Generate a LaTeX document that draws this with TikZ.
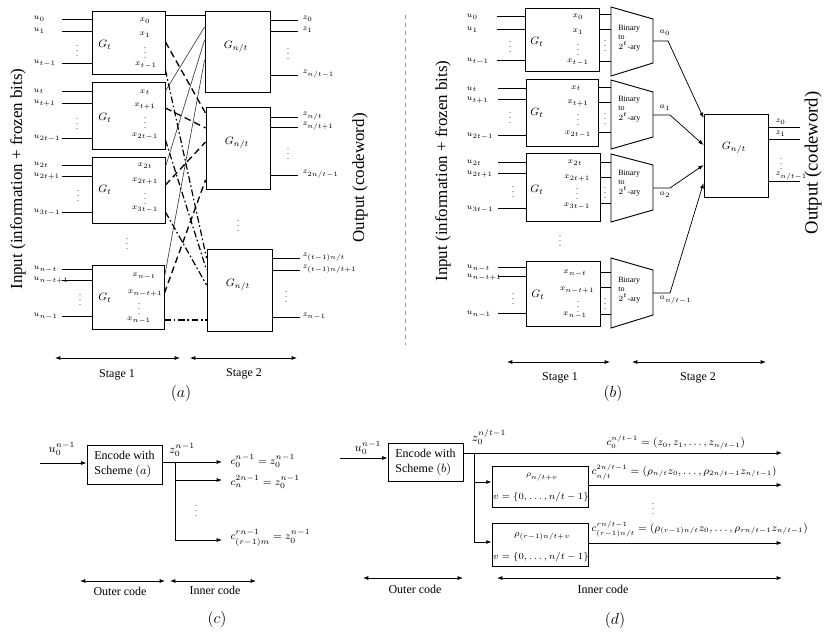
\documentclass[tikz,border=0pt]{standalone}
\usepackage{fontspec}
\setmainfont{Liberation Serif}
\usetikzlibrary{arrows.meta,fit}
\begin{document}
\begin{tikzpicture}[x=0.75pt,y=-0.75pt,
 gbox/.style={draw, line width=0.7pt, inner sep=0pt},
 tline/.style={line width=0.7pt},
 wire/.style={line width=0.55pt},
 lab/.style={font=\fontsize{6}{7}\selectfont, inner sep=0.3pt},
 glab/.style={font=\fontsize{8.5}{10}\selectfont, inner sep=0pt},
 tlab/.style={font=\fontsize{6}{7}\selectfont, align=left, inner sep=0pt},
 txt/.style={font=\fontsize{9}{11}\selectfont, inner sep=0.5pt},
 eqn/.style={font=\fontsize{8.3}{10}\selectfont, inner sep=0.2pt},
 eqd/.style={font=\fontsize{7.7}{9}\selectfont, inner sep=0.2pt},
 rtx/.style={font=\fontsize{7.5}{9}\selectfont, inner sep=0.3pt},
 bigl/.style={font=\fontsize{12.7}{15}\selectfont, rotate=90, inner sep=0pt},
 figlab/.style={font=\fontsize{12}{14}\selectfont, inner sep=0pt},
 wA/.style={line width=0.5pt, black!75},
 wB/.style={line width=1pt, dash pattern=on 5pt off 3pt},
 wC/.style={line width=0.9pt, dash pattern=on 5pt off 2pt on 1.2pt off 2pt},
 arr/.style={line width=0.6pt, -{Latex[length=4pt,width=3pt]}},
 dbl/.style={line width=0.6pt, {Latex[length=4pt,width=3pt]}-{Latex[length=4pt,width=3pt]}},
]
\useasboundingbox (0,0) rectangle (831,638);

% ================= (a) =================
\node[bigl] (ina) at (18,179) {Input (information + frozen bits)};
\node[bigl] (outa) at (360,178) {Output (codeword)};

\node[gbox, fit={(92,11)(165,74)}] (A1) {};
\node[gbox, fit={(92,82)(165,149)}] (A2) {};
\node[gbox, fit={(92,157)(165,223)}] (A3) {};
\node[gbox, fit={(92,265)(164,329)}] (A4) {};
\node[glab] (A1g) at (105,45) {$G_t$};
\node[glab] (A2g) at (105,118) {$G_t$};
\node[glab] (A3g) at (105,190) {$G_t$};
\node[glab] (A4g) at (105,298) {$G_t$};

\foreach \b/\y/\l/\n in {A1/19/u_0/a, A1/31/u_1/b, A1/63/{u_{t-1}}/c,
  A2/91/u_t/d, A2/103/{u_{t+1}}/e, A2/138/{u_{2t-1}}/f,
  A3/165/{u_{2t}}/g, A3/176/{u_{2t+1}}/h, A3/212/{u_{3t-1}}/i,
  A4/269/{u_{n-t}}/j, A4/280/{u_{n-t+1}}/k, A4/316/{u_{n-1}}/l}
 {\draw[wire] (\b.west |- 0,\y) -- ++(-30,0);
  \node[lab, anchor=west] (ua\n) at (33,\y) {$\l$};}
\foreach \x/\y/\n in {77/47/a, 77/120/b, 78/192/c, 80/296/d, 127/240/e}
 {\node[lab] (va\n) at (\x,\y) {$\vdots$};}
\foreach \x/\y/\l/\n in {145/21/x_0/a, 145/35/x_1/b, 145/49/\vdots/c, 146/65/{x_{t-1}}/d,
  145/92/x_t/e, 145/106/{x_{t+1}}/f, 145/119/\vdots/g, 145/136/{x_{2t-1}}/h,
  145/166/{x_{2t}}/i, 145/181/{x_{2t+1}}/j, 145/195/\vdots/k, 145/209/{x_{3t-1}}/l,
  144/276/{x_{n-t}}/m, 145/293/{x_{n-t+1}}/n, 139/305/\vdots/o, 139/320/{x_{n-1}}/p}
 {\node[lab] (xa\n) at (\x,\y) {$\l$};}

\node[gbox, fit={(205,11)(270,92)}] (AA) {};
\node[gbox, fit={(206,107)(270,189)}] (AB) {};
\node[gbox, fit={(207,249)(272,331)}] (AC) {};
\node[glab] (AAg) at (236,47) {$G_{n/t}$};
\node[glab] (ABg) at (237,143) {$G_{n/t}$};
\node[glab] (ACg) at (238,285) {$G_{n/t}$};
\node[lab] (vaf) at (238,222) {$\vdots$};

\foreach \b/\y/\l/\n in {AA/20/z_0/a, AA/31/z_1/b, AA/75/{z_{n/t-1}}/c,
  AB/117/{z_{n/t}}/d, AB/127/{z_{n/t+1}}/e, AB/175/{z_{2n/t-1}}/f,
  AC/258/{z_{(t-1)n/t}}/g, AC/270/{z_{(t-1)n/t+1}}/h, AC/317/{z_{n-1}}/i}
 {\draw[wire] (\b.east |- 0,\y) -- ++(28,0);
  \node[lab, anchor=west] (za\n) at (302,\y-1) {$\l$};}
\foreach \x/\y/\n in {288/50/g, 288/150/h, 286/293/i}
 {\node[lab] (va\n) at (\x,\y) {$\vdots$};}

% crossings
\draw[wire] (A1.east |- 0,15) -- (AA.west |- 0,15);
\draw[wA] (A2.east |- 0,91) -- (AA.west |- 0,27);
\draw[wA] (A3.east |- 0,167) -- (AA.west |- 0,40);
\draw[wA] (A4.east |- 0,277) -- (AA.west |- 0,60);
\draw[wB] (A1.east |- 0,42) -- (AB.west |- 0,113);
\draw[wB] (A2.east |- 0,108) -- (AB.west |- 0,128);
\draw[wB] (A3.east |- 0,185) -- (AB.west |- 0,142);
\draw[wB] (A4.east |- 0,293) -- (AB.west |- 0,180);
\draw[wC] (A1.east |- 0,70) -- (AC.west |- 0,258);
\draw[wC] (A2.east |- 0,140) -- (AC.west |- 0,270);
\draw[wC] (A3.east |- 0,212) -- (AC.west |- 0,285);
\draw[wC] (A4.east |- 0,320) -- (AC.west |- 0,320);

\coordinate (sa1) at (55,358); \coordinate (sa2) at (180,358);
\coordinate (sa3) at (190,358); \coordinate (sa4) at (297,358);
\draw[dbl] (sa1) -- (sa2);
\draw[dbl] (sa3) -- (sa4);
\node[txt] (sta1) at (117,375) {Stage 1};
\node[txt] (sta2) at (244,374) {Stage 2};
\node[figlab] (fa) at (181,393) {$(a)$};

% separator
\draw[black!40, dashed, line width=0.5pt] (405,15) -- (405,345);

% ================= (b) =================
\node[bigl] (inb) at (443,171) {Input (information + frozen bits)};
\node[bigl, font=\fontsize{14}{16}\selectfont] (outb) at (813,163) {Output (codeword)};

\node[gbox, fit={(525,8)(599,71)}] (B1) {};
\node[gbox, fit={(526,79)(598,146)}] (B2) {};
\node[gbox, fit={(526,153)(600,221)}] (B3) {};
\node[gbox, fit={(526,261)(600,326)}] (B4) {};
\node[glab] (B1g) at (537,42) {$G_t$};
\node[glab] (B2g) at (537,113) {$G_t$};
\node[glab] (B3g) at (537,190) {$G_t$};
\node[glab] (B4g) at (538,295) {$G_t$};

\foreach \b/\y/\l/\n in {B1/16/u_0/a, B1/29/u_1/b, B1/60/{u_{t-1}}/c,
  B2/88/u_t/d, B2/99/{u_{t+1}}/e, B2/135/{u_{2t-1}}/f,
  B3/162/{u_{2t}}/g, B3/173/{u_{2t+1}}/h, B3/208/{u_{3t-1}}/i,
  B4/267/{u_{n-t}}/j, B4/276/{u_{n-t+1}}/k, B4/313/{u_{n-1}}/l}
 {\draw[wire] (\b.west |- 0,\y) -- ++(-28,0);
  \node[lab, anchor=west] (ub\n) at (466,\y+1) {$\l$};}
\foreach \x/\y/\n in {510/43/a, 510/114/b, 513/188/c, 513/295/d, 560/237/e}
 {\node[lab] (vb\n) at (\x,\y) {$\vdots$};}
\foreach \x/\y/\l/\n in {578/17/x_0/a, 578/32/x_1/b, 578/46/\vdots/c, 578/62/{x_{t-1}}/d,
  576/88/x_t/e, 578/103/{x_{t+1}}/f, 578/116/\vdots/g, 578/134/{x_{2t-1}}/h,
  575/163/{x_{2t}}/i, 577/178/{x_{2t+1}}/j, 577/190/\vdots/k, 577/206/{x_{3t-1}}/l,
  575/273/{x_{n-t}}/m, 577/290/{x_{n-t+1}}/n, 578/303/\vdots/o, 575/315/{x_{n-1}}/p}
 {\node[lab] (xb\n) at (\x,\y) {$\l$};}

% trapezoids
\draw[tline] (611,7) -- (653,19) -- (653,63) -- (611,76) -- cycle;
\draw[tline] (611,80) -- (653,92) -- (653,137) -- (611,149) -- cycle;
\draw[tline] (611,154) -- (653,165) -- (653,210) -- (611,222) -- cycle;
\draw[tline] (611,258) -- (653,270) -- (653,315) -- (611,328) -- cycle;
\coordinate (T1w) at (611,41); \coordinate (T2w) at (611,114);
\coordinate (T3w) at (611,188); \coordinate (T4w) at (611,293);
\foreach \t/\y/\n in {1/38/a, 2/109/b, 3/183/c, 4/290/d}
 {\node[tlab, anchor=west] (bt\n) at (618,\y) {Binary\\to\\$2^t$-ary};}

\foreach \b/\t/\y in {B1/T1w/14, B1/T1w/29, B1/T1w/61,
  B2/T2w/87, B2/T2w/102, B2/T2w/132,
  B3/T3w/162, B3/T3w/177, B3/T3w/203,
  B4/T4w/272, B4/T4w/287, B4/T4w/314}
 {\draw[wire] (\b.east |- 0,\y) -- (\t |- 0,\y);}
\foreach \x/\y/\n in {605/42/f, 605/115/g, 605/189/h, 605/300/i}
 {\node[lab] (vb\n) at (\x,\y) {$\vdots$};}

\node[gbox, fit={(704,114)(768,197)}] (BG) {};
\node[glab] (BGg) at (734,148) {$G_{n/t}$};

\coordinate (T1o) at (653,41); \coordinate (T1k) at (668,41);
\coordinate (T2o) at (653,115); \coordinate (T2k) at (670,115);
\coordinate (T3o) at (653,188); \coordinate (T3k) at (670,188);
\coordinate (T4o) at (653,293); \coordinate (T4k) at (670,293);
\draw[arr, line width=0.55pt] (T1o) -- (T1k) -- (BG.west |- 0,118);
\draw[arr, line width=0.55pt] (T2o) -- (T2k) -- (BG.west |- 0,145);
\draw[arr, line width=0.55pt] (T3o) -- (T3k) -- (BG.west |- 0,165);
\draw[arr, line width=0.55pt] (T4o) -- (T4k) -- (BG.west |- 0,183);
\node[lab, anchor=west] (al0) at (659,33) {$a_0$};
\node[lab, anchor=west] (al1) at (659,108) {$a_1$};
\node[lab, anchor=west] (al2) at (659,195) {$a_2$};
\node[lab, anchor=west] (al3) at (659,300) {$a_{n/t-1}$};

\foreach \y/\l/\n in {127/z_0/a, 139/z_1/b, 181/{z_{n/t-1}}/c}
 {\draw[wire] (BG.east |- 0,\y) -- ++(32,0);
  \node[lab, anchor=west] (zb\n) at (775,\y-5) {$\l$};}
\node[lab] (vbz) at (781,160) {$\vdots$};

\coordinate (sb1) at (507,362); \coordinate (sb2) at (610,362);
\coordinate (sb3) at (632,362); \coordinate (sb4) at (766,362);
\draw[dbl] (sb1) -- (sb2);
\draw[dbl] (sb3) -- (sb4);
\node[txt] (stb1) at (560,378) {Stage 1};
\node[txt] (stb2) at (698,378) {Stage 2};
\node[figlab] (fb) at (613,393) {$(b)$};

% ================= (c) =================
\node[txt] (cu) at (62,449) {$u_0^{n-1}$};
\node[draw, line width=0.7pt, txt, align=left, inner sep=0pt,
  minimum width=56.25pt, minimum height=29.25pt] (C0) at (124.5,464.5) {Encode with\\Scheme $(a)$};
\coordinate (cin) at (40,463);
\draw[arr] (cin) -- (C0.west |- 0,463);
\node[txt] (cz) at (182,450) {$z_0^{n-1}$};
\coordinate (cj) at (175,462); \coordinate (ce0) at (222,462);
\coordinate (cb1) at (175,480); \coordinate (ce1) at (222,480);
\coordinate (cb2) at (175,540); \coordinate (ce2) at (222,540);
\draw[wire] (C0.east |- 0,462) -- (cj);
\draw[wire] (cj) -- (cb2);
\draw[arr] (cj) -- (ce0);
\draw[arr] (cb1) -- (ce1);
\draw[arr] (cb2) -- (ce2);
\node[eqn, anchor=west] (ceq0) at (230,461) {$c_0^{n-1} = z_0^{n-1}$};
\node[eqn, anchor=west] (ceq1) at (230,482) {$c_n^{2n-1} = z_0^{n-1}$};
\node[lab] (cv) at (196,507) {$\vdots$};
\node[eqn, anchor=west] (ceq2) at (230,538) {$c_{(r-1)m}^{rn-1} = z_0^{n-1}$};

\coordinate (sc1) at (80,581); \coordinate (sc2) at (165,581);
\coordinate (sc3) at (170,581); \coordinate (sc4) at (256,581);
\draw[dbl] (sc1) -- (sc2);
\draw[dbl] (sc3) -- (sc4);
\node[txt] (cout) at (120,591) {Outer code};
\node[txt] (cinn) at (215,590) {Inner code};
\node[figlab] (fc) at (217,619) {$(c)$};

% ================= (d) =================
\node[txt] (du) at (368,448) {$u_0^{n-1}$};
\node[draw, line width=0.7pt, txt, align=left, inner sep=0pt,
  minimum width=56.25pt, minimum height=28.5pt] (D0) at (425.5,462) {Encode with\\Scheme $(b)$};
\coordinate (din) at (340,458);
\draw[arr] (din) -- (D0.west |- 0,458);
\node[txt] (dz) at (489,437) {$z_0^{n/t-1}$};

\node[draw, line width=0.6pt, fit={(492,466)(588,507)}, inner sep=0pt] (DR1) {};
\node[draw, line width=0.6pt, fit={(492,523)(588,566)}, inner sep=0pt] (DR2) {};
\node[lab] (dr1a) at (542,477) {$\rho_{n/t+v}$};
\node[rtx] (dr1b) at (541,497) {$v=\{0,\ldots,n/t-1\}$};
\node[rtx] (dr2a) at (542,536) {$\rho_{(r-1)n/t+v}$};
\node[rtx] (dr2b) at (541,557) {$v=\{0,\ldots,n/t-1\}$};

\coordinate (dj) at (474,453); \coordinate (de0) at (782,453);
\coordinate (db1) at (474,482); \coordinate (db2) at (474,542);
\coordinate (de1) at (782,485); \coordinate (de2) at (782,543);
\draw[wire] (D0.east |- 0,453) -- (dj);
\draw[arr] (dj) -- (de0);
\draw[wire] (dj) -- (db2);
\draw[arr] (db1) -- (DR1.west |- 0,482);
\draw[arr] (db2) -- (DR2.west |- 0,542);
\draw[arr] (DR1.east |- 0,485) -- (de1);
\draw[arr] (DR2.east |- 0,543) -- (de2);

\node[eqd, anchor=west] (deq0) at (606,442) {$c_0^{n/t-1} = (z_0, z_1, \ldots, z_{n/t-1})$};
\node[eqd, anchor=west] (deq1) at (591,472) {$c_{n/t}^{2n/t-1} = (\rho_{n/t}z_0, \ldots, \rho_{2n/t-1}z_{n/t-1})$};
\node[lab] (dv) at (653,505) {$\vdots$};
\node[eqd, anchor=west] (deq2) at (591,529) {$c_{(r-1)n/t}^{rn/t-1} = (\rho_{(r-1)n/t}z_0, \ldots, \rho_{rn/t-1}z_{n/t-1})$};

\coordinate (sd1) at (363,578); \coordinate (sd2) at (463,578);
\coordinate (sd3) at (497,578); \coordinate (sd4) at (782,578);
\draw[dbl] (sd1) -- (sd2);
\draw[dbl] (sd3) -- (sd4);
\node[txt] (dout) at (415,589) {Outer code};
\node[txt] (dinn) at (603,589) {Inner code};
\node[figlab] (fd) at (615,620) {$(d)$};
\end{tikzpicture}
\end{document}
